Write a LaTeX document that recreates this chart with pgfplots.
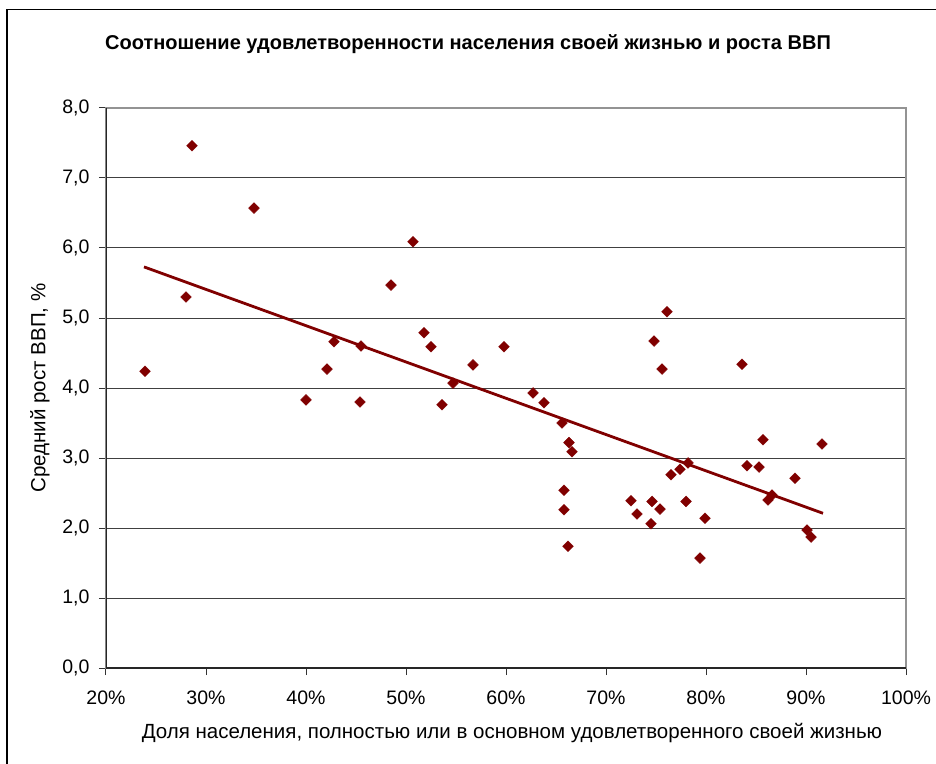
\documentclass[border=0pt]{standalone}
\usepackage{fontspec}
\setmainfont{Liberation Sans}
\usepackage{pgfplots}
\pgfplotsset{compat=1.18}
\definecolor{darkred}{HTML}{800000}

\pgfplotstableread{
x y
23.9 4.24
28.0 5.30
28.6 7.46
34.8 6.57
40.0 3.83
42.1 4.27
42.8 4.66
45.5 4.60
45.4 3.80
48.5 5.47
50.7 6.09
51.8 4.79
52.5 4.59
53.6 3.76
54.7 4.07
56.7 4.33
59.8 4.59
62.7 3.93
63.8 3.79
65.6 3.50
66.3 3.22
66.6 3.09
65.8 2.54
65.8 2.26
66.2 1.74
72.5 2.39
73.1 2.20
74.6 2.38
74.5 2.06
75.4 2.27
74.8 4.67
75.6 4.27
76.1 5.09
76.5 2.76
77.4 2.84
78.2 2.93
78.0 2.38
79.4 1.57
79.9 2.14
83.6 4.34
84.1 2.89
85.3 2.87
85.7 3.26
86.2 2.40
86.6 2.47
88.9 2.71
90.1 1.97
90.5 1.87
91.6 3.20
}\satisfaction

\begin{document}
\begin{tikzpicture}[x=1pt,y=1pt]
\useasboundingbox (-106,-95) rectangle (830,668);
\draw[black, line width=1.5pt] (-99,-100) -- (-99,658.5) -- (840,658.5);
\begin{axis}[
    at={(0,0)}, anchor=south west,
    scale only axis, width=800pt, height=560pt,
    xmin=20, xmax=100, ymin=0, ymax=8,
    xtick={20,30,...,100}, ytick={0,1,...,8},
    xticklabel={\pgfmathprintnumber{\tick}\%},
    /pgf/number format/assume math mode=true,
    tick label style={font=\fontsize{19.5}{22}\selectfont, black},
    xticklabel style={yshift=-12pt},
    yticklabel style={xshift=-6pt, /pgf/number format/fixed, /pgf/number format/fixed zerofill, /pgf/number format/precision=1, /pgf/number format/use comma},
    tick align=outside, xtick pos=bottom, ytick pos=left,
    major tick length=7pt,
    tick style={black!80, line width=1pt},
    ymajorgrids, grid style={black!75, line width=1pt},
    axis line style={gray!85, line width=1.2pt},
    title={Соотношение удовлетворенности населения своей жизнью и роста ВВП},
    title style={font=\fontsize{20}{22}\selectfont\bfseries, at={(axis description cs:0.5,1)}, anchor=center, yshift=58pt, xshift=-38pt},
    xlabel={Доля населения, полностью или в основном удовлетворенного своей жизнью},
    xlabel style={font=\fontsize{20.5}{23}\selectfont, at={(axis description cs:0.5,0)}, anchor=center, yshift=-65pt, xshift=6pt},
    ylabel={Средний рост ВВП, \%},
    ylabel style={font=\fontsize{20.5}{23}\selectfont, at={(axis description cs:0,0.5)}, anchor=center, yshift=66pt},
]
\draw[black!85, line width=1.2pt] (axis cs:20,8) -- (axis cs:20,0) -- (axis cs:100,0);
\addplot[only marks, mark=square*, mark size=3.8pt, mark options={rotate=45, fill=darkred, draw=darkred}] table[x=x, y=y] {\satisfaction};
\addplot[darkred, line width=2.8pt, no marks] coordinates {(23.8,5.73) (91.7,2.21)};
\end{axis}
\end{tikzpicture}
\end{document}
